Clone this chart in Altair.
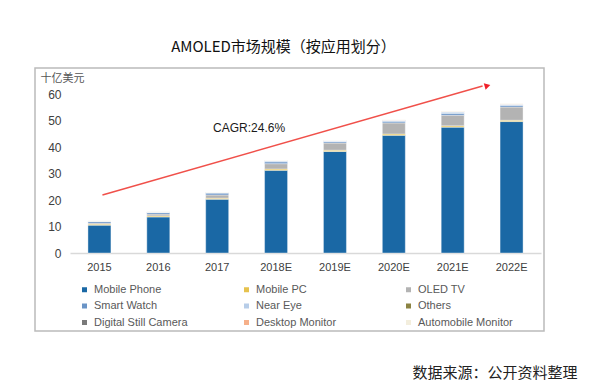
import altair as alt
import pandas as pd

years = ["2015", "2016", "2017", "2018E", "2019E", "2020E", "2021E", "2022E"]
segments = ["Mobile Phone", "Mobile PC", "OLED TV", "Smart Watch", "Near Eye",
            "Others", "Digital Still Camera", "Desktop Monitor", "Automobile Monitor"]
colors = ["#1A68A5", "#E6C24E", "#B3B3B3", "#6A94C6", "#B7CDE8",
          "#8B8342", "#7A7A7A", "#F6B08A", "#F3EEDD"]

mobile_phone = [10.5, 13.6, 20.3, 31.2, 38.3, 44.4, 47.5, 49.6]
mobile_pc    = [0.4, 0.4, 0.4, 0.5, 0.5, 0.5, 0.5, 0.5]
oled_tv      = [0.4, 0.7, 1.2, 2.0, 2.7, 4.2, 4.0, 5.0]
smart_watch  = [0.6, 0.6, 0.7, 0.7, 0.5, 0.6, 0.7, 0.6]
near_eye     = [0.1, 0.1, 0.2, 0.4, 0.3, 0.35, 0.5, 0.4]
others       = [0.05, 0.05, 0.05, 0.05, 0.05, 0.05, 0.1, 0.05]
dsc          = [0.05, 0.05, 0.05, 0.05, 0.05, 0.05, 0.05, 0.05]
desktop_mon  = [0.0, 0.0, 0.0, 0.05, 0.05, 0.05, 0.1, 0.1]
auto_mon     = [0.1, 0.1, 0.1, 0.1, 0.1, 0.1, 0.15, 0.1]

series = [mobile_phone, mobile_pc, oled_tv, smart_watch, near_eye,
          others, dsc, desktop_mon, auto_mon]

rows = []
for si, (name, vals) in enumerate(zip(segments, series)):
    for y, v in zip(years, vals):
        rows.append({"year": y, "segment": name, "value": v, "ord": si})
df = pd.DataFrame(rows)

cagr_text = "CAGR:24.6%"
arrow_start = ("2015", 21.9)
arrow_end = ("2022E", 63.0)
cagr_pos = ("2018E", 47.0)
y_ticks = [0, 10, 20, 30, 40, 50, 60]

FONT = "Liberation Sans"

x_axis = alt.Axis(title="数据来源：公开资料整理", labelAngle=0, ticks=False,
                  domainColor="#D9D9D9", domainWidth=1.5,
                  labelColor="#404040", labelFontSize=11, labelFont=FONT,
                  labelPadding=8,
                  titleFont="Noto Sans CJK SC", titleFontSize=15,
                  titleFontWeight="normal", titleColor="#222222",
                  titleAnchor="end", titleAlign="right",
                  titleX=507, titleY=119, titleBaseline="middle")
y_axis = alt.Axis(title="十亿美元", values=y_ticks, tickCount=7,
                  grid=False, domain=False, ticks=False, labelOverlap=False,
                  labelColor="#404040", labelFontSize=12, labelFont=FONT,
                  labelPadding=9,
                  titleAngle=0, titleX=-30, titleY=-16, titleAlign="left",
                  titleBaseline="middle", titleFont="Noto Sans CJK SC",
                  titleFontSize=11, titleFontWeight="normal",
                  titleColor="#555555")
x_scale = alt.Scale(domain=years, paddingInner=0.6, paddingOuter=0.3)
y_scale = alt.Scale(domain=[0, 60], nice=False)

bars = alt.Chart(df).mark_bar(size=23, stroke="#FFFFFF", strokeWidth=0.4).encode(
    x=alt.X("year:N", sort=years, scale=x_scale, axis=x_axis),
    y=alt.Y("value:Q", stack="zero", scale=y_scale, axis=y_axis),
    color=alt.Color("segment:N",
                    scale=alt.Scale(domain=segments, range=colors),
                    legend=alt.Legend(title=None, orient="none", legendX=9, legendY=190,
                                      direction="horizontal",
                                      columns=3, gridAlign="all", columnPadding=52,
                                      rowPadding=4.5, symbolType="square",
                                      symbolSize=25, symbolStrokeWidth=0,
                                      labelOffset=4, labelFont=FONT, labelFontSize=11,
                                      labelColor="#595959", labelLimit=200)),
    order=alt.Order("ord:Q", sort="ascending"),
)

arrow_line = alt.Chart(pd.DataFrame({"x": [arrow_start[0]], "x2": [arrow_end[0]],
                                     "y": [arrow_start[1]], "y2": [arrow_end[1]]})).mark_rule(
    color="#F0504A", strokeWidth=1.5, xOffset=3, x2Offset=-29
).encode(x=alt.X("x:N", sort=years, scale=x_scale, axis=x_axis), x2="x2:N",
         y=alt.Y("y:Q", scale=y_scale, axis=y_axis), y2="y2:Q")

arrow_head = alt.Chart(pd.DataFrame({"x": [arrow_end[0]], "y": [arrow_end[1]]})).mark_point(
    shape="triangle", filled=True, color="#F0202A", size=45, angle=74, opacity=1, xOffset=-25
).encode(x=alt.X("x:N", sort=years, scale=x_scale, axis=x_axis),
         y=alt.Y("y:Q", scale=y_scale, axis=y_axis))

cagr = alt.Chart(pd.DataFrame({"x": [cagr_pos[0]], "y": [cagr_pos[1]], "t": [cagr_text]})).mark_text(
    align="right", baseline="middle", dx=9, font=FONT, fontSize=12, color="#1A1A1A"
).encode(x=alt.X("x:N", sort=years, scale=x_scale, axis=x_axis),
         y=alt.Y("y:Q", scale=y_scale, axis=y_axis), text="t:N")

frame = alt.Chart(pd.DataFrame({"a": [0]})).mark_rect(
    fill=None, stroke="#BBBBBB", strokeWidth=1.5
).encode(x=alt.value(-35), x2=alt.value(474), y=alt.value(-26), y2=alt.value(237))

chart = alt.layer(frame, bars, arrow_line, arrow_head, cagr).properties(
    width=471, height=159,
    padding={"left": 62, "top": 86, "right": 54, "bottom": 127},
    autosize=alt.AutoSizeParams(type="none"),
    title=alt.TitleParams("AMOLED市场规模（按应用划分）", font="Noto Sans CJK SC",
                          fontSize=15, fontWeight="normal", color="#111111",
                          anchor="middle", frame="group", dx=-22, offset=12),
).configure_view(strokeWidth=0)

chart.save("out.html", embed_options={"renderer": "svg", "actions": False})
